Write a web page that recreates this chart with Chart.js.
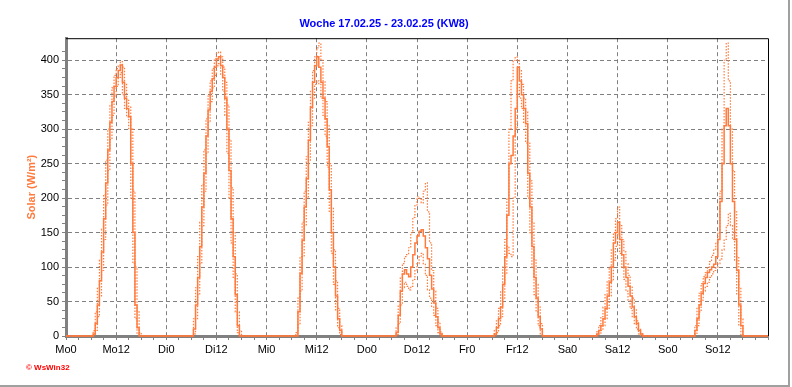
<!DOCTYPE html>
<html>
<head>
<meta charset="utf-8">
<script src="https://cdn.jsdelivr.net/npm/chart.js@4/dist/chart.umd.min.js"></script>
<style>
  html, body { margin: 0; padding: 0; background: #fff; }
  #wrap { width: 792px; height: 387px; }
</style>
</head>
<body>
<div id="wrap"><canvas id="solarChart" width="792" height="387"></canvas></div>
<script>
// ================= DATA =================
const xTickLabels = ["Mo0", "Mo12", "Di0", "Di12", "Mi0", "Mi12", "Do0", "Do12",
                     "Fr0", "Fr12", "Sa0", "Sa12", "So0", "So12"];

// half-hour steps of each day where the sun is up (hours)
const hourOfDay = [6, 6.5, 7, 7.5, 8, 8.5, 9, 9.5, 10, 10.5, 11, 11.5, 12,
                   12.5, 13, 13.5, 14, 14.5, 15, 15.5, 16, 16.5, 17, 17.5, 18];

// solar W/m², one row per day Mo..So
const solarMean = [
  [0, 3, 18, 45, 80, 122, 170, 222, 270, 310, 340, 362, 375, 385, 393, 368, 345, 330, 318, 250, 150, 45, 12, 0, 0],
  [0, 10, 45, 85, 130, 187, 236, 290, 328, 355, 373, 390, 402, 405, 392, 375, 345, 300, 240, 170, 115, 60, 15, 0, 0],
  [0, 0, 0, 35, 91, 139, 187, 228, 284, 332, 368, 392, 405, 390, 368, 345, 315, 275, 212, 150, 100, 58, 25, 8, 0],
  [0, 0, 5, 30, 65, 90, 96, 90, 86, 100, 118, 135, 145, 152, 154, 145, 128, 112, 88, 68, 48, 28, 12, 3, 0],
  [0, 3, 12, 25, 42, 75, 115, 175, 250, 262, 290, 330, 390, 370, 350, 330, 308, 236, 187, 130, 85, 55, 28, 10, 0],
  [0, 0, 3, 8, 15, 25, 40, 58, 78, 100, 135, 150, 165, 140, 118, 100, 85, 72, 58, 42, 28, 18, 8, 3, 0],
  [0, 8, 25, 45, 62, 76, 85, 92, 96, 100, 104, 115, 140, 195, 250, 305, 330, 305, 250, 195, 140, 95, 45, 15, 0]
];

const solarMax = [
  [0, 8, 35, 70, 110, 155, 205, 255, 300, 335, 360, 378, 388, 392, 398, 390, 365, 342, 332, 300, 210, 100, 35, 5, 0],
  [0, 25, 70, 115, 165, 220, 270, 315, 348, 370, 388, 402, 410, 412, 405, 390, 368, 335, 285, 215, 150, 90, 35, 8, 0],
  [0, 0, 5, 55, 115, 165, 210, 260, 310, 355, 385, 405, 418, 425, 400, 370, 340, 305, 250, 185, 125, 80, 40, 15, 0],
  [0, 0, 12, 45, 85, 105, 115, 118, 128, 150, 172, 190, 202, 200, 193, 210, 222, 180, 135, 95, 65, 40, 20, 6, 0],
  [0, 8, 22, 40, 65, 100, 140, 200, 300, 370, 400, 405, 400, 385, 365, 345, 325, 280, 225, 165, 110, 75, 42, 18, 0],
  [0, 0, 6, 15, 28, 42, 60, 80, 100, 125, 150, 170, 187, 160, 140, 122, 105, 88, 72, 55, 38, 22, 10, 3, 0],
  [0, 15, 40, 62, 76, 86, 92, 100, 108, 117, 126, 136, 150, 210, 300, 400, 425, 370, 300, 240, 180, 115, 70, 25, 0]
];

const solarMin = [
  [0, 0, 8, 28, 58, 95, 140, 190, 240, 285, 320, 348, 362, 375, 382, 350, 330, 318, 300, 200, 105, 25, 3, 0, 0],
  [0, 3, 25, 60, 105, 160, 210, 265, 310, 340, 360, 378, 392, 395, 380, 355, 320, 265, 200, 135, 85, 35, 5, 0, 0],
  [0, 0, 0, 18, 65, 115, 160, 200, 255, 305, 345, 365, 370, 365, 345, 320, 290, 245, 180, 120, 75, 38, 12, 2, 0],
  [0, 0, 2, 18, 45, 70, 78, 72, 67, 72, 82, 95, 105, 115, 120, 105, 88, 67, 55, 42, 30, 15, 5, 0, 0],
  [0, 0, 5, 15, 28, 55, 90, 130, 120, 115, 200, 300, 365, 345, 330, 310, 280, 200, 150, 100, 60, 35, 15, 3, 0],
  [0, 0, 0, 3, 8, 15, 25, 40, 58, 80, 110, 130, 148, 120, 100, 82, 65, 52, 40, 28, 18, 10, 3, 0, 0],
  [0, 3, 15, 35, 52, 65, 72, 78, 85, 90, 95, 100, 105, 112, 125, 140, 160, 178, 160, 140, 110, 60, 15, 0, 0]
];

// turn day rows into points along the week (hours 0..168)
function weekPoints(rows) {
  const pts = [{ x: 0, y: 0 }];
  rows.forEach((row, d) => {
    row.forEach((v, i) => pts.push({ x: d * 24 + hourOfDay[i], y: v }));
  });
  pts.push({ x: 168, y: 0 });
  return pts;
}

const ORANGE = "#ff7a3c";
const GRID = "#808080";
const FONT = "'Liberation Sans', Arial, sans-serif";

// ================= FRAME / EXTRA TEXT =================
const frame = {
  id: "frame",
  afterDraw(chart) {
    const { ctx, chartArea: a } = chart;
    ctx.save();
    ctx.strokeStyle = "#000";
    ctx.lineWidth = 1;
    ctx.beginPath();
    ctx.moveTo(a.left, a.top + 0.5);
    ctx.lineTo(a.right + 0.5, a.top + 0.5);
    ctx.lineTo(a.right + 0.5, a.bottom);
    ctx.stroke();

    // window edge
    ctx.strokeStyle = "#a0a0a0";
    ctx.lineWidth = 2;
    ctx.beginPath();
    ctx.moveTo(789, 0);
    ctx.lineTo(789, 386);
    ctx.lineTo(0, 386);
    ctx.stroke();

    ctx.fillStyle = "#ff0000";
    ctx.font = "bold 8px " + FONT;
    ctx.textBaseline = "middle";
    ctx.fillText("© WsWin32", 26, 368);
    ctx.restore();
  }
};

// ================= CHART =================
const ctx = document.getElementById("solarChart").getContext("2d");

const dotted = {
  borderColor: ORANGE,
  borderWidth: 1.2,
  borderDash: [1.5, 1.5],
  pointRadius: 0,
  stepped: true,
  clip: 3
};

new Chart(ctx, {
  type: "line",
  data: {
    datasets: [
      Object.assign({ data: weekPoints(solarMax) }, dotted),
      Object.assign({ data: weekPoints(solarMin) }, dotted),
      {
        data: weekPoints(solarMean),
        borderColor: ORANGE,
        borderWidth: 1.5,
        pointRadius: 0,
        stepped: true,
        clip: 3
      }
    ]
  },
  options: {
    responsive: false,
    animation: false,
    devicePixelRatio: 1,
    layout: { padding: { left: 0, right: 24, top: 0, bottom: 0 } },
    plugins: {
      legend: { display: false },
      tooltip: { enabled: false },
      title: {
        display: true,
        text: "Woche 17.02.25 - 23.02.25 (KW8)",
        color: "#0000ff",
        font: { family: FONT, size: 11, weight: "bold" },
        padding: { top: 17, bottom: 8 }
      }
    },
    scales: {
      x: {
        type: "linear",
        min: 0,
        max: 168,
        afterFit: s => { s.height = 51; },
        ticks: {
          stepSize: 3,
          autoSkip: false,
          maxRotation: 0,
          padding: 3,
          color: "#000",
          font: { family: FONT, size: 11 },
          callback: v => (v % 12 === 0 && v < 168) ? xTickLabels[v / 12] : ""
        },
        grid: {
          color: c => (c.tick && c.tick.value % 12 === 0 && c.tick.value > 0 && c.tick.value < 168) ? GRID : "transparent",
          tickColor: GRID,
          tickLength: 4
        },
        border: { color: GRID, width: 3, dash: [4, 3] }
      },
      y: {
        min: 0,
        max: 432,
        afterFit: s => { s.width = 66; },
        afterBuildTicks: s => { s.ticks = s.ticks.filter(t => t.value % 12.5 === 0); },
        ticks: {
          stepSize: 12.5,
          autoSkip: false,
          padding: 3,
          color: "#000",
          font: { family: FONT, size: 11 },
          callback: v => v % 50 === 0 ? v : ""
        },
        grid: {
          color: c => (c.tick && c.tick.value % 50 === 0 && c.tick.value > 0) ? GRID : "transparent",
          tickColor: GRID,
          tickLength: 4
        },
        border: { color: GRID, width: 3, dash: [4, 3] },
        title: {
          display: true,
          text: "Solar (W/m²)",
          color: ORANGE,
          font: { family: FONT, size: 11, weight: "bold" },
          padding: { top: 25, bottom: 0 }
        }
      }
    }
  },
  plugins: [frame]
});
</script>
</body>
</html>
